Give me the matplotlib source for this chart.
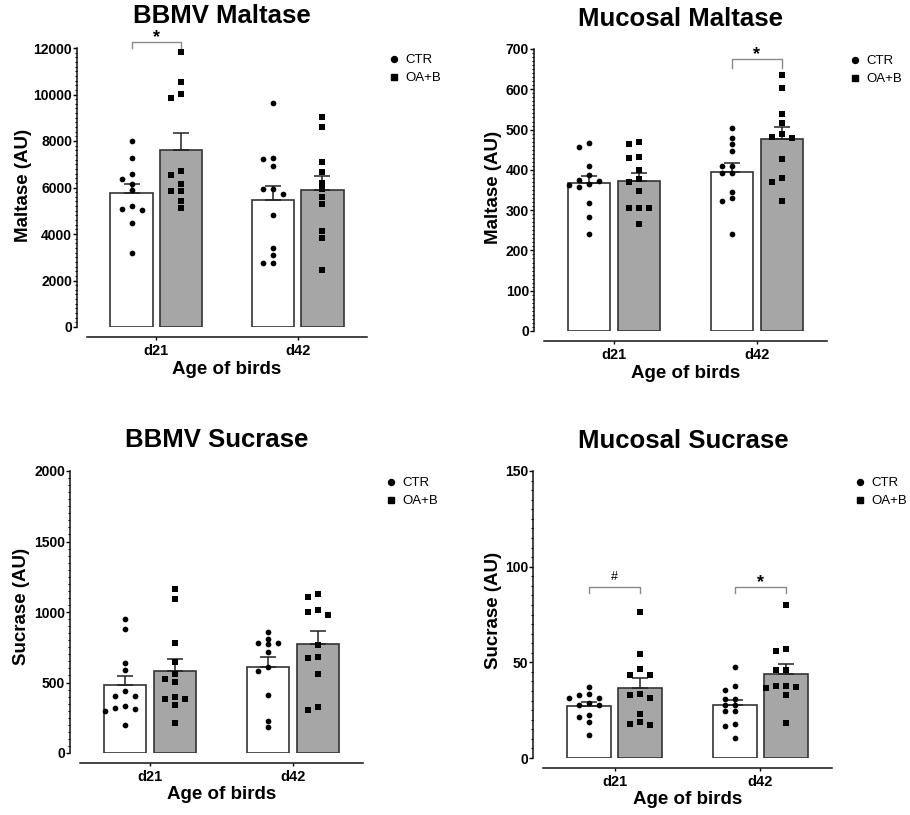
import numpy as np
import matplotlib
matplotlib.use('Agg')
import matplotlib.pyplot as plt
from matplotlib.ticker import MultipleLocator, AutoMinorLocator
from matplotlib.lines import Line2D

plt.rcParams['font.family'] = ['Liberation Sans', 'DejaVu Sans']

# ---------------- data ----------------
ages = ['d21', 'd42']
groups = ['CTR', 'OA+B']

bbmv_maltase_ctr_d21 = [8000, 7260, 6600, 6370, 6140, 5890, 5060, 5200, 5030, 4470, 3180]
bbmv_maltase_oab_d21 = [11810, 10520, 10020, 9870, 6710, 6540, 6140, 5860, 5860, 5420, 5120]
bbmv_maltase_ctr_d42 = [9640, 7270, 7210, 6940, 5950, 5920, 5720, 4830, 3390, 3090, 2760, 2760]
bbmv_maltase_oab_d42 = [9040, 8620, 7110, 6650, 6210, 5920, 5610, 5270, 4120, 3840, 2470]

muc_maltase_ctr_d21 = [466, 457, 410, 386, 375, 373, 365, 363, 357, 318, 282, 242]
muc_maltase_oab_d21 = [470, 463, 431, 429, 400, 377, 371, 348, 306, 306, 305, 266]
muc_maltase_ctr_d42 = [505, 480, 463, 447, 410, 410, 393, 393, 346, 329, 323, 242]
muc_maltase_oab_d42 = [635, 602, 538, 517, 489, 482, 478, 426, 379, 369, 323]

bbmv_sucrase_ctr_d21 = [947, 876, 635, 592, 440, 403, 403, 332, 322, 315, 296, 197]
bbmv_sucrase_oab_d21 = [1160, 1089, 777, 646, 557, 528, 504, 398, 386, 381, 339, 213]
bbmv_sucrase_ctr_d42 = [859, 812, 781, 777, 772, 713, 611, 582, 410, 227, 185]
bbmv_sucrase_oab_d42 = [1125, 1108, 1013, 1001, 978, 765, 682, 677, 557, 327, 303]

muc_sucrase_ctr_d21 = [37.2, 33.3, 32.8, 31.6, 31.4, 29.0, 27.9, 27.6, 22.7, 21.5, 18.8, 12.2]
muc_sucrase_oab_d21 = [76.4, 54.6, 46.3, 43.6, 43.6, 33.2, 32.8, 31.1, 23.2, 18.8, 18.0, 17.5]
muc_sucrase_ctr_d42 = [47.6, 37.5, 35.4, 30.7, 30.6, 27.6, 27.6, 24.4, 24.4, 18.0, 16.8, 10.5]
muc_sucrase_oab_d42 = [79.9, 57.2, 55.8, 45.9, 45.9, 37.7, 37.5, 37.2, 36.8, 32.8, 18.5]

titles = ['BBMV Maltase', 'Mucosal Maltase', 'BBMV Sucrase', 'Mucosal Sucrase']
ylabels = ['Maltase (AU)', 'Maltase (AU)', 'Sucrase (AU)', 'Sucrase (AU)']
ymax = [12000, 700, 2000, 150]
ystep = [2000, 100, 500, 50]

# significance marks per age (d21, d42) and bracket heights (low end, high end)
sig_bbmv_maltase = ['*', '']
sig_muc_maltase = ['', '*']
sig_bbmv_sucrase = ['', '']
sig_muc_sucrase = ['#', '*']
bracket_bbmv_maltase = [12010, 12260]
bracket_muc_maltase = [652, 674]
bracket_bbmv_sucrase = [0, 0]
bracket_muc_sucrase = [86.3, 89.5]

panels = [
    ([bbmv_maltase_ctr_d21, bbmv_maltase_ctr_d42], [bbmv_maltase_oab_d21, bbmv_maltase_oab_d42],
     sig_bbmv_maltase, bracket_bbmv_maltase),
    ([muc_maltase_ctr_d21, muc_maltase_ctr_d42], [muc_maltase_oab_d21, muc_maltase_oab_d42],
     sig_muc_maltase, bracket_muc_maltase),
    ([bbmv_sucrase_ctr_d21, bbmv_sucrase_ctr_d42], [bbmv_sucrase_oab_d21, bbmv_sucrase_oab_d42],
     sig_bbmv_sucrase, bracket_bbmv_sucrase),
    ([muc_sucrase_ctr_d21, muc_sucrase_ctr_d42], [muc_sucrase_oab_d21, muc_sucrase_oab_d42],
     sig_muc_sucrase, bracket_muc_sucrase),
]

# ---------------- layout (pixels) ----------------
W, H = 910, 815
DPI = 100
# axes box: left, right, top, bottom (pixels from top-left)
boxes = [(87, 367, 48, 327), (544, 827, 49, 331), (80, 363, 471, 753), (543, 832, 471, 758)]
title_pos = [(222, 23), (681, 26), (217, 447), (683, 448)]
ylab_pos = [(32, 185), (502, 187), (30, 606), (502, 610)]
xlab_top = [361, 365, 786, 791]
leg_pos = [(387, 54), (848, 55), (384, 477), (853, 477)]

fig = plt.figure(figsize=(W / DPI, H / DPI), dpi=DPI)

def fx(px):
    return px / W

def fy(py):
    return 1 - py / H

OFF = 0.175
BW = 0.30
COL_CTR = 'white'
COL_OAB = '#a6a6a6'
EDGE = '#333333'

def swarm(ax, xc, vals, step_px=10.0, diam_px=5.6):
    disp = ax.transData.transform(np.column_stack([np.full(len(vals), xc), vals]))
    ys = disp[:, 1]
    order = np.argsort(-np.asarray(vals))
    cands = [0]
    for i in range(1, 12):
        cands += [-i, i]
    placed = []
    offs = np.zeros(len(vals))
    for idx in order:
        y = ys[idx]
        for c in cands:
            xo = c * step_px
            if all((xo - px) ** 2 + (y - py) ** 2 >= diam_px ** 2 for px, py in placed):
                break
        placed.append((xo, y))
        offs[idx] = xo
    x0 = disp[0, 0]
    inv = ax.transData.inverted()
    return np.array([inv.transform((x0 + o, 0))[0] for o in offs])

for i, (ctr, oab, sig, br) in enumerate(panels):
    l, r, t, b = boxes[i]
    ax = fig.add_axes([fx(l), fy(b), fx(r) - fx(l), fy(t) - fy(b)])
    ax.set_xlim(-0.49, 1.49)
    ax.set_ylim(0, ymax[i])
    for s in ['top', 'right']:
        ax.spines[s].set_visible(False)
    ax.spines['left'].set_position(('outward', 7))
    ax.spines['bottom'].set_position(('outward', 7))
    for s in ['left', 'bottom']:
        ax.spines[s].set_linewidth(1.1)
        ax.spines[s].set_color('#111111')

    for g, (vals_list, col, mk) in enumerate([(ctr, COL_CTR, 'o'), (oab, COL_OAB, 's')]):
        for a in range(2):
            vals = np.asarray(vals_list[a], dtype=float)
            xc = a + (-OFF if g == 0 else OFF)
            m = vals.mean()
            sem = vals.std(ddof=1) / np.sqrt(len(vals))
            ax.bar(xc, m, width=BW, color=col, edgecolor=EDGE, linewidth=1.2, zorder=1)
            ax.errorbar(xc, m, yerr=[[0], [sem]], fmt='none', ecolor='#222222',
                        elinewidth=1.1, capsize=5.5, capthick=1.1, zorder=2)
            xs = swarm(ax, xc, vals)
            ax.scatter(xs, vals, marker=mk, s=17 if mk == 'o' else 15, c='black',
                       linewidths=0, zorder=3, clip_on=False)

    # significance brackets
    for a in range(2):
        if sig[a]:
            x1, x2 = a - OFF, a + OFF
            lo, hi = br
            ax.plot([x1, x1, x2, x2], [lo, hi, hi, lo], color='#8a8a8a', lw=1.0,
                    clip_on=False, zorder=4)
            if sig[a] == '*':
                ax.annotate('*', xy=(a, hi), xytext=(0, 0), textcoords='offset points',
                            ha='center', va='baseline', fontsize=13, fontweight='bold',
                            annotation_clip=False)
            else:
                ax.annotate(sig[a], xy=(a, hi), xytext=(0, 5), textcoords='offset points',
                            ha='center', va='baseline', fontsize=9,
                            annotation_clip=False)

    ax.yaxis.set_major_locator(MultipleLocator(ystep[i]))
    ax.yaxis.set_minor_locator(AutoMinorLocator(10))
    ax.tick_params(axis='y', which='major', length=3, width=1.0, pad=0.8, labelsize=10)
    ax.tick_params(axis='y', which='minor', length=1.5, width=0.8)
    ax.set_xticks([0, 1])
    ax.set_xticklabels(ages)
    ax.tick_params(axis='x', which='major', length=2, width=1.0, pad=3, labelsize=10.5)
    for lab in ax.get_yticklabels() + ax.get_xticklabels():
        lab.set_fontweight('bold')

    ax.set_ylabel(ylabels[i], fontsize=13.5, fontweight='bold')
    ax.yaxis.set_label_coords(fx(ylab_pos[i][0]), fy(ylab_pos[i][1]), transform=fig.transFigure)
    ax.set_xlabel('Age of birds', fontsize=13.5, fontweight='bold')
    ax.xaxis.set_label_coords(fx((l + r) / 2), fy(xlab_top[i]), transform=fig.transFigure)

    fig.text(fx(title_pos[i][0]), fy(title_pos[i][1]), titles[i], ha='center', va='baseline',
             fontsize=18.5, fontweight='bold')

    handles = [Line2D([], [], marker='o', ls='', color='black', ms=4.3),
               Line2D([], [], marker='s', ls='', color='black', ms=4.0)]
    ax.legend(handles, groups, loc='upper left',
              bbox_to_anchor=(fx(leg_pos[i][0]), fy(leg_pos[i][1])),
              bbox_transform=fig.transFigure, frameon=False, handlelength=1.0,
              handletextpad=0.4, borderpad=0, borderaxespad=0, labelspacing=0.45,
              fontsize=9.5)

fig.savefig('out.png', dpi=DPI)
